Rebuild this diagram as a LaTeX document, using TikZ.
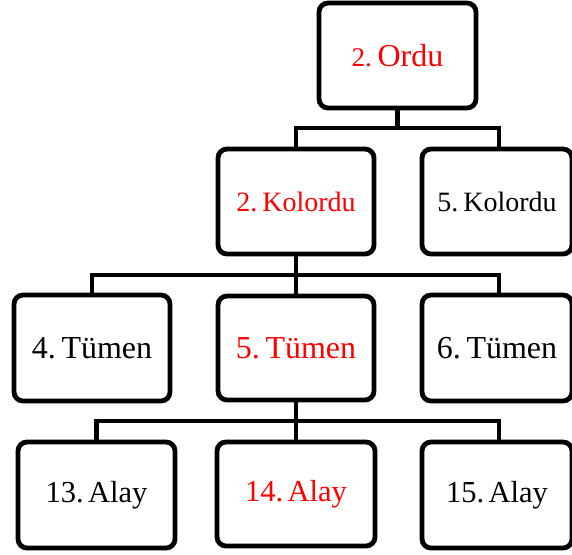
\documentclass[tikz,border=0pt]{standalone}
\usepackage{fontspec}
\setmainfont{Liberation Serif}
\definecolor{hl}{RGB}{255,0,0}
\newcommand{\tsp}{\hspace{0.18em}}
\tikzset{
  unitbox/.style={draw=black, line width=4.8pt, rounded corners=9pt, fill=white,
    inner sep=0pt, minimum height=105pt, align=center},
  link/.style={draw=black, line width=4.6pt},
  bigtxt/.style={font=\fontsize{32}{32}\selectfont},
  midtxt/.style={font=\fontsize{28}{28}\selectfont},
  alaytxt/.style={font=\fontsize{30.5}{30.5}\selectfont},
}
\begin{document}
\begin{tikzpicture}[x=1pt,y=-1pt]
\useasboundingbox (0,0) rectangle (572,554);
% level 0
\node[unitbox, minimum width=157pt, text=hl] (ordu) at (397.5,55.5)
  {{\fontsize{27}{27}\selectfont 2.}{\fontsize{32}{32}\selectfont\tsp Ordu}};
% level 1
\node[unitbox, midtxt, minimum width=156pt, text=hl] (k2) at (296,201.5) {2.\tsp Kolordu};
\node[unitbox, midtxt, minimum width=150pt] (k5) at (497,201.5) {5.\tsp Kolordu};
% level 2
\node[unitbox, bigtxt, minimum width=156pt, minimum height=106pt] (t4) at (92,348) {4.\tsp Tümen};
\node[unitbox, bigtxt, minimum width=156pt, minimum height=104pt, text=hl] (t5) at (296,348) {5.\tsp Tümen};
\node[unitbox, bigtxt, minimum width=150pt, minimum height=106pt] (t6) at (497,348) {6.\tsp Tümen};
% level 3
\node[unitbox, alaytxt, minimum width=157pt, minimum height=106pt] (a13) at (96.5,495) {13.\hspace{0.14em}Alay};
\node[unitbox, alaytxt, minimum width=158pt, minimum height=104pt, text=hl] (a14) at (296,494) {14.\hspace{0.14em}Alay};
\node[unitbox, alaytxt, minimum width=150pt, minimum height=106pt] (a15) at (497,495) {15.\hspace{0.14em}Alay};
% junction points
\coordinate (b1) at (397.5,128);
\coordinate (b2) at (296,275);
\coordinate (b3) at (296,421);
% connectors
\draw[link] (ordu.south) -- (b1);
\draw[link] (k2.north) |- (b1) -| ([xshift=2pt]k5.north);
\draw[link] (k2.south) -- (t5.north);
\draw[link] (t4.north) |- (b2) -| ([xshift=2pt]t6.north);
\draw[link] (t5.south) -- (a14.north);
\draw[link] (a13.north) |- (b3) -| ([xshift=2pt]a15.north);
\end{tikzpicture}
\end{document}
